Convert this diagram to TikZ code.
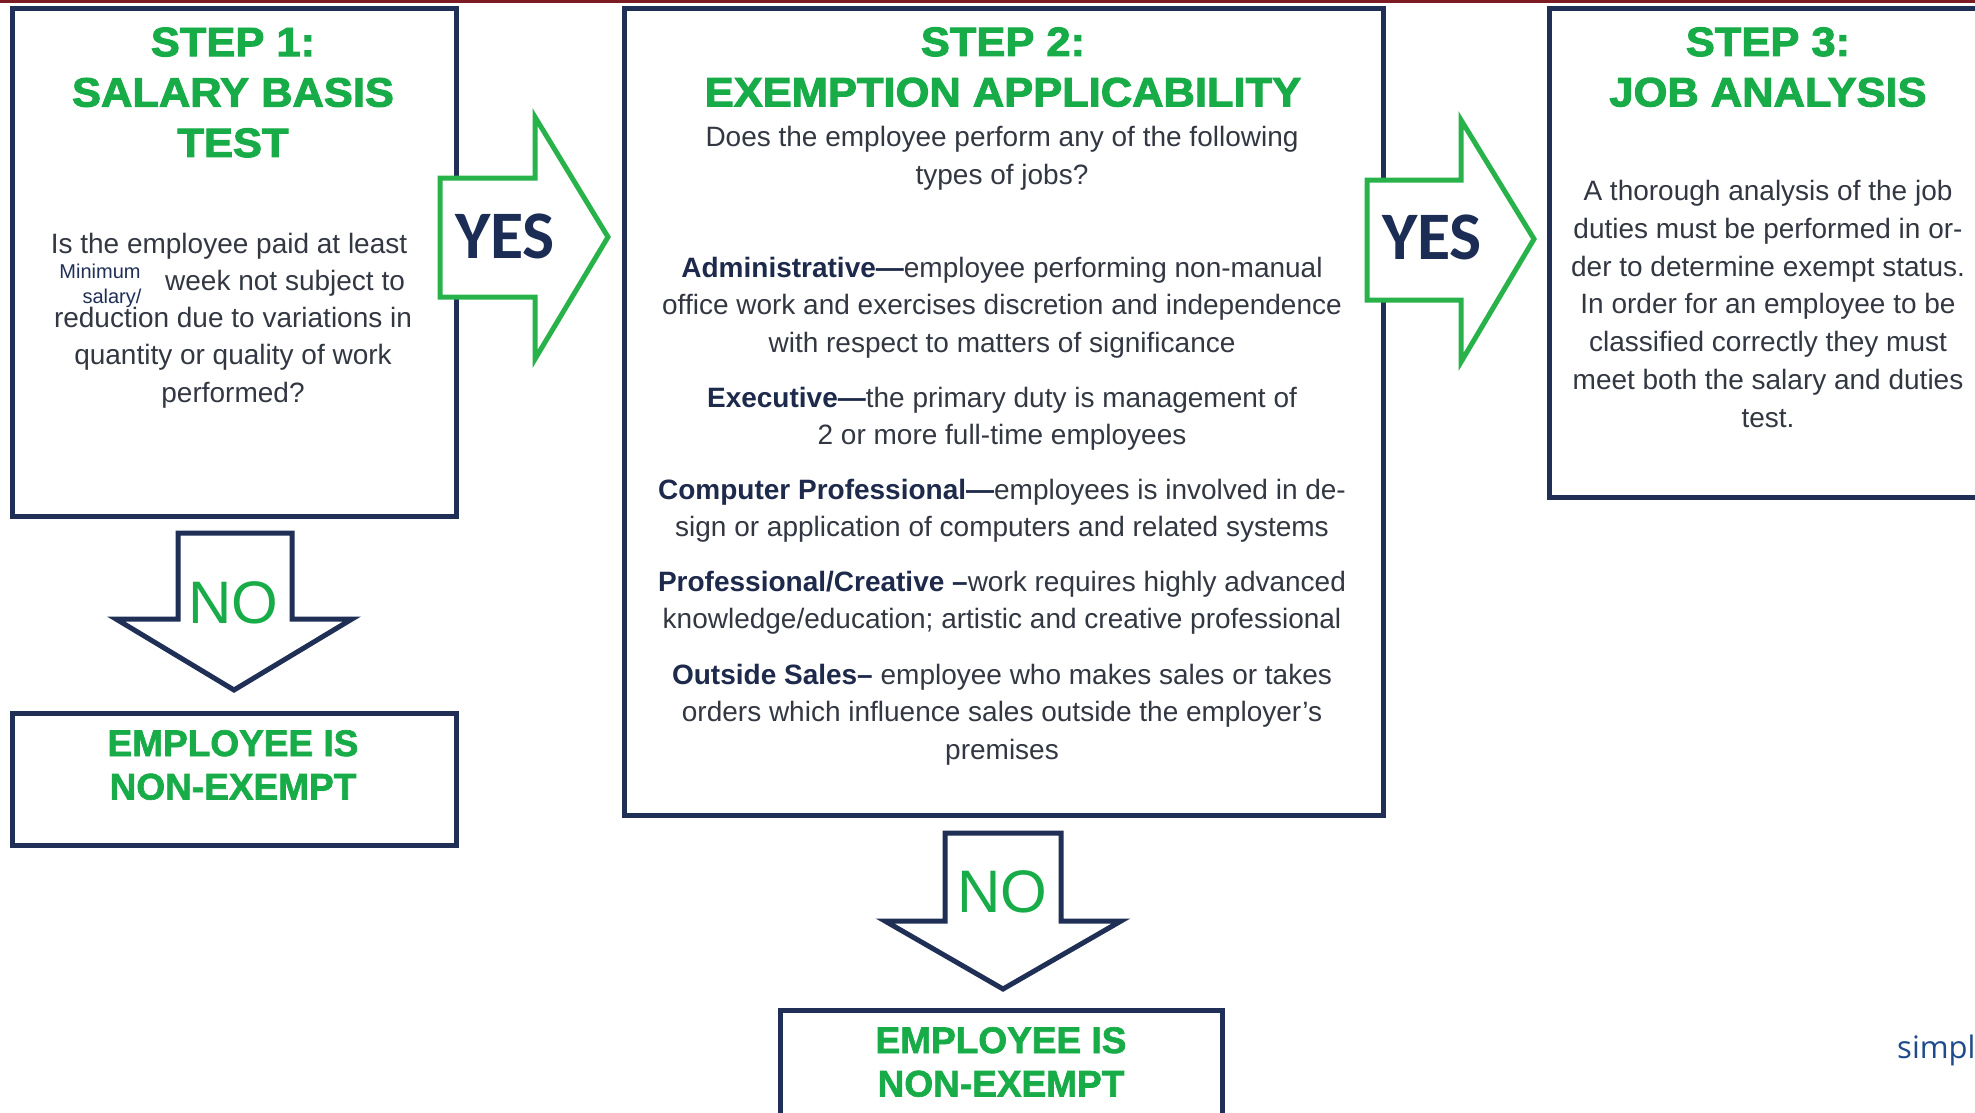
\documentclass[tikz,border=0pt]{standalone}
\usepackage{fontspec}
\setmainfont{Liberation Sans}
\newfontfamily\titlefont[FakeBold=2.4,FakeStretch=1.06]{Liberation Sans Bold}
\newfontfamily\outfont[FakeBold=1.8]{Liberation Sans Bold}
\newfontfamily\yesfont{Carlito Bold}
\newfontfamily\brandfont{Open Sans}
\definecolor{navy}{RGB}{31,47,86}
\definecolor{grn}{RGB}{24,172,72}
\definecolor{arrgrn}{RGB}{40,178,74}
\definecolor{txt}{RGB}{50,55,66}
\definecolor{termc}{RGB}{30,42,75}
\definecolor{yesc}{RGB}{28,45,85}
\definecolor{redline}{RGB}{125,27,36}
\definecolor{brand}{RGB}{30,75,140}
\newcommand\term[1]{\textcolor{termc}{\bfseries #1}}
% multi-line nodes are placed by the baseline of their last line
\tikzset{
  box/.style={draw=navy, line width=5pt, fill=white, rectangle, inner sep=0pt, outer sep=0pt},
  yesarrow/.style={draw=arrgrn, line width=5pt, fill=white, line join=miter},
  noarrow/.style={draw=navy, line width=5pt, fill=white, line join=miter},
  ttl/.style={font=\titlefont\fontsize{41}{50.4}\selectfont, text=grn, align=center, inner sep=0pt, anchor=base},
  outcome/.style={font=\outfont\fontsize{37}{43.5}\selectfont, text=grn, align=center, inner sep=0pt, anchor=base},
  body/.style={font=\fontsize{28}{37.7}\selectfont, text=txt, align=center, inner sep=0pt, anchor=base},
  small/.style={font=\fontsize{20}{25}\selectfont, text=navy, inner sep=0pt, anchor=base},
  yeslbl/.style={font=\yesfont\fontsize{68}{70}\selectfont, text=yesc, inner sep=0pt, anchor=base},
  nolbl/.style={font=\fontsize{60}{62}\selectfont, text=grn, inner sep=0pt, anchor=base},
}
\begin{document}
\begin{tikzpicture}[x=1pt,y=-1pt]
\useasboundingbox (0,0) rectangle (1975,1113);
\clip (0,0) rectangle (1975,1113);
\fill[white] (0,0) rectangle (1975,1113);
\fill[redline] (0,0) rectangle (1975,3.5);

% step boxes
\node[box, minimum width=444pt, minimum height=507pt] (s1) at (234,262.5) {};
\node[box, minimum width=759pt, minimum height=806pt] (s2) at (1003.5,412) {};
\node[box, minimum width=451pt, minimum height=488pt] (s3) at (1774.5,253) {};
% outcome boxes
\node[box, minimum width=444pt, minimum height=132pt] (o1) at (234,779) {};
\node[box, minimum width=442pt, minimum height=120pt] (o2) at (1001,1070) {};

% YES block arrows
\draw[yesarrow] (440,178) -- (535,178) -- (535,117) -- (608,237) -- (535,359) -- (535,297) -- (440,297) -- cycle;
\node[yeslbl] (yes1) at (505,258) {YES};
\draw[yesarrow] (1367,180) -- (1461,180) -- (1461,120) -- (1534,239) -- (1461,362) -- (1461,300) -- (1367,300) -- cycle;
\node[yeslbl] (yes2) at (1432,259) {YES};

% NO block arrows
\draw[noarrow] (178,533) -- (292,533) -- (292,619) -- (352,619) -- (234,690) -- (116,619) -- (178,619) -- cycle;
\node[nolbl] (no1) at (233,623) {NO};
\draw[noarrow] (945,833) -- (1061,833) -- (1061,921) -- (1121,921) -- (1003,989) -- (885,921) -- (945,921) -- cycle;
\node[nolbl] (no2) at (1002,912) {NO};

% step 1
\node[ttl] (t1) at (233,157) {STEP 1:\\SALARY BASIS\\TEST};
\node[body] (q1a) at (229,253) {Is the employee paid at least};
\node[body, anchor=base west] (q1b) at (165,290) {week not subject to};
\node[body] (q1c) at (233,402.4) {reduction due to variations in\\quantity or quality of work\\performed?};
\node[small] (m1) at (100,278) {Minimum};
\node[small] (m2) at (112,303) {salary/};

% step 2
\node[ttl] (t2) at (1003,106.4) {STEP 2:\\EXEMPTION APPLICABILITY};
\node[body] (q2) at (1002,184) {Does the employee perform any of the following\\types of jobs?};
\node[body] (adm) at (1002,352.4) {\term{Administrative—}employee performing non-manual\\office work and exercises discretion and independence\\with respect to matters of significance};
\node[body] (exe) at (1002,444.7) {\term{Executive—}the primary duty is management of\\2 or more full-time employees};
\node[body] (cmp) at (1002,536.7) {\term{Computer Professional—}employees is involved in de-\\sign or application of computers and related systems};
\node[body] (pro) at (1002,628.7) {\term{Professional/Creative –}work requires highly advanced\\knowledge/education; artistic and creative professional};
\node[body] (out) at (1002,759.4) {\term{Outside Sales–} employee who makes sales or takes\\orders which influence sales outside the employer’s\\premises};

% step 3
\node[ttl] (t3) at (1768,106.4) {STEP 3:\\JOB ANALYSIS};
\node[body] (q3) at (1768,427) {A thorough analysis of the job\\duties must be performed in or-\\der to determine exempt status.\\In order for an employee to be\\classified correctly they must\\meet both the salary and duties\\test.};

% outcomes
\node[outcome] (e1) at (233,799.5) {EMPLOYEE IS\\NON-EXEMPT};
\node[outcome] (e2) at (1001,1096.5) {EMPLOYEE IS\\NON-EXEMPT};

\node[font=\brandfont\fontsize{31}{33}\selectfont, text=brand, inner sep=0pt, anchor=base west] (brand) at (1897,1058) {simpl};
\end{tikzpicture}
\end{document}
